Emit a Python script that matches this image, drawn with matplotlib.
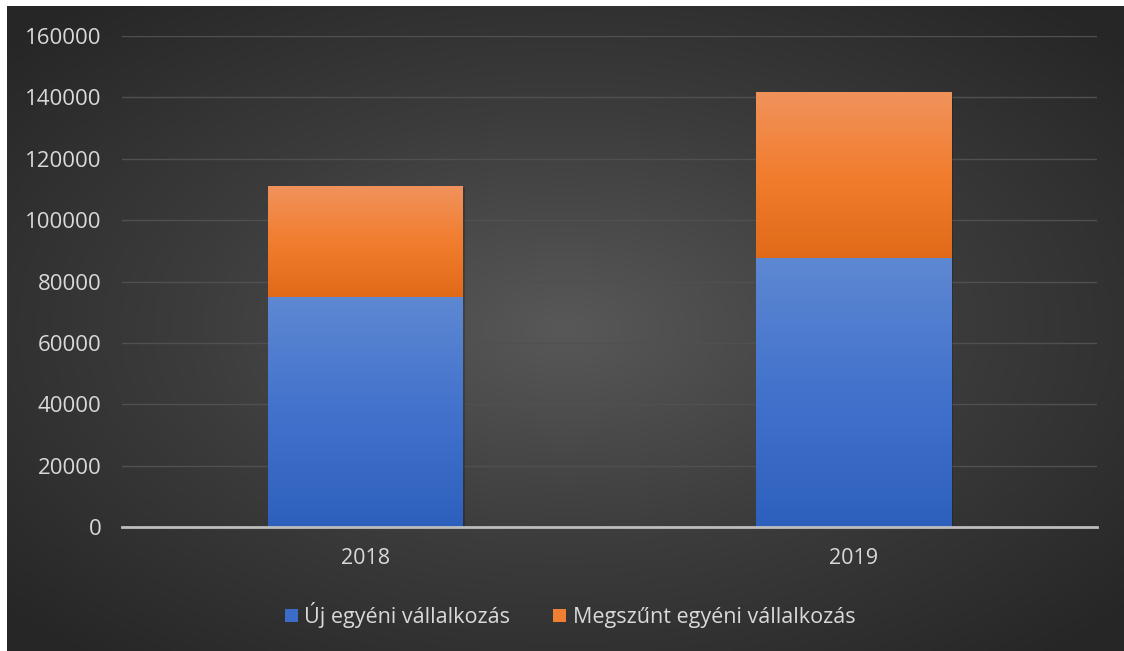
import numpy as np
import matplotlib
matplotlib.use('Agg')
import matplotlib.pyplot as plt
from matplotlib.colors import LinearSegmentedColormap
from matplotlib.patches import Rectangle

years = ['2018', '2019']
uj = [75000, 87700]
megszunt = [36100, 53800]
labels = ['Új egyéni vállalkozás', 'Megszűnt egyéni vállalkozás']
yticks = [0, 20000, 40000, 60000, 80000, 100000, 120000, 140000, 160000]

plt.rcParams['font.family'] = ['Open Sans', 'DejaVu Sans']

fig = plt.figure(figsize=(11.24, 6.51), dpi=100, facecolor='white')

# radial dark background
bg = fig.add_axes([7/1124, 0, 1 - 7/1124, 1 - 6/651])
bg.set_axis_off()
yy, xx = np.mgrid[-1:1:300j, -1:1:500j]
r = np.sqrt(xx**2 + yy**2)
bgmap = LinearSegmentedColormap.from_list('bg', ['#585858', '#3c3c3c', '#262626'])
bg.imshow(np.clip(r / 1.35, 0, 1), cmap=bgmap, aspect='auto', extent=[0, 1, 0, 1], vmin=0, vmax=1)
bg.set_xlim(0, 1)
bg.set_ylim(0, 1)

ax = fig.add_axes([122/1124, 1 - 527/651, 975/1124, (527 - 36)/651])
ax.patch.set_alpha(0)
x = np.arange(len(years))
w = 0.4

blue_cmap = LinearSegmentedColormap.from_list('b', ['#2d60bd', '#4272cc', '#5e88d2'])
orange_cmap = LinearSegmentedColormap.from_list('o', ['#e06a18', '#f27d2e', '#f0925c'])

b1 = ax.bar(x, uj, w, color='none', zorder=3)
b2 = ax.bar(x, megszunt, w, bottom=uj, color='none', zorder=3)
grad = np.linspace(0, 1, 256).reshape(-1, 1)
for bars, cm in ((b1, blue_cmap), (b2, orange_cmap)):
    for p in bars:
        x0, y0 = p.get_x(), p.get_y()
        bw, bh = p.get_width(), p.get_height()
        # soft shadow
        ax.add_patch(Rectangle((x0 + 0.004, y0 - 600), bw, bh, facecolor='black',
                               alpha=0.2, zorder=2, lw=0))
        ax.imshow(grad, cmap=cm, origin='lower', aspect='auto',
                  extent=[x0, x0 + bw, y0, y0 + bh], zorder=3)

ax.set_xlim(-0.5, 1.5)
ax.set_ylim(0, 160000)
ax.set_yticks(yticks)
ax.set_xticks(x)
ax.set_xticklabels(years)
ax.grid(axis='y', color='#505050', lw=1, zorder=1)
for s in ['top', 'right', 'left']:
    ax.spines[s].set_visible(False)
ax.spines['bottom'].set_color('#bdbdbd')
ax.spines['bottom'].set_linewidth(2)
ax.spines['bottom'].set_zorder(4)
ax.tick_params(axis='y', length=0, pad=15, labelsize=16, labelcolor='#d9d9d9')
ax.tick_params(axis='x', length=0, pad=15, labelsize=15.5, labelcolor='#d9d9d9')

h1 = Rectangle((0, 0), 1, 1, facecolor='#3a6cc8')
h2 = Rectangle((0, 0), 1, 1, facecolor='#f07f34')
fig.legend([h1, h2], labels, loc='center', bbox_to_anchor=(570/1124, 1 - 615/651),
           ncol=2, frameon=False, fontsize=15.5, labelcolor='#d9d9d9',
           handlelength=0.6, handleheight=0.6, handletextpad=0.3, columnspacing=2.0)

fig.savefig('out.png', dpi=100, facecolor='white')
